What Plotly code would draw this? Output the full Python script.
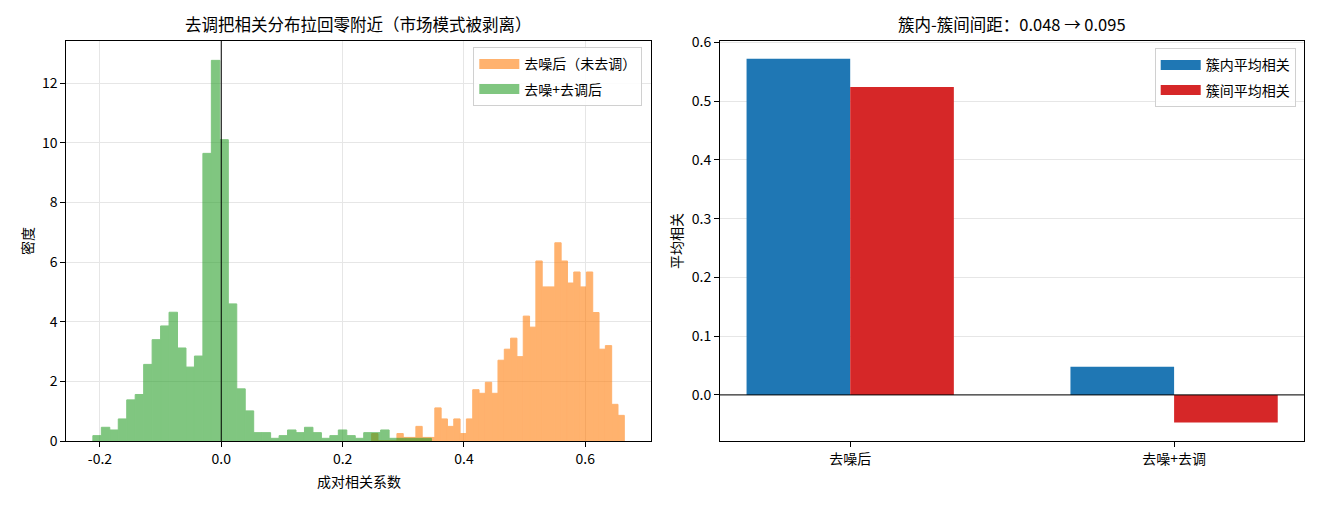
import plotly.graph_objects as go

# ---------------- data ----------------
# Left panel: histograms (density), 40 bins each
green_name = "去噪+去调后"
green_start = -0.2116
green_width = 0.01395
green_density = [0.18, 0.46, 0.37, 0.74, 1.38, 1.56, 2.57, 3.40, 3.86, 4.32,
                 3.12, 2.48, 2.85, 9.65, 12.77, 10.11, 4.60, 1.75, 1.01, 0.28,
                 0.28, 0.09, 0.18, 0.37, 0.28, 0.46, 0.28, 0.09, 0.18, 0.37,
                 0.18, 0.09, 0.28, 0.28, 0.37, 0.09, 0.09, 0.09, 0.09, 0.09]

orange_name = "去噪后（未去调）"
orange_start = 0.2479
orange_width = 0.01041
orange_density = [0.25, 0.0, 0.0, 0.0, 0.25, 0.12, 0.12, 0.49, 0.12, 0.12,
                  1.11, 0.74, 0.49, 0.74, 0.25, 0.74, 1.72, 1.60, 1.97, 1.60,
                  2.71, 3.08, 3.45, 2.83, 4.19, 3.82, 6.04, 5.17, 5.17, 6.65,
                  6.04, 5.30, 5.67, 5.17, 5.67, 4.31, 3.08, 3.20, 1.23, 0.86]

left_xticks = [-0.2, 0.0, 0.2, 0.4, 0.6]
left_xticklabels = ["-0.2", "0.0", "0.2", "0.4", "0.6"]
left_yticks = [0, 2, 4, 6, 8, 10, 12]

# Right panel: grouped bars
categories = ["去噪后", "去噪+去调"]
intra_name = "簇内平均相关"
inter_name = "簇间平均相关"
intra_vals = [0.572, 0.048]
inter_vals = [0.524, -0.047]
right_yticks = [0.0, 0.1, 0.2, 0.3, 0.4, 0.5, 0.6]
right_yticklabels = ["0.0", "0.1", "0.2", "0.3", "0.4", "0.5", "0.6"]

left_title = "去调把相关分布拉回零附近（市场模式被剥离）"
right_title = "簇内-簇间间距：0.048 → 0.095"
left_xlabel = "成对相关系数"
left_ylabel = "密度"
right_ylabel = "平均相关"

# ---------------- styling ----------------
W, H = 1320, 505
FONT = "Noto Sans CJK SC"
ORANGE = "#ff7f0e"
GREEN = "#2ca02c"
BLUE = "#1f77b4"
RED = "#d62728"
GRID = "#e6e6e6"
BAR_W = 0.32


def px_x(p):
    return p / W


def px_y(p):
    return 1 - p / H


def centers(start, width, n):
    return [start + width * (i + 0.5) for i in range(n)]


fig = go.Figure()

fig.add_trace(go.Bar(
    x=centers(orange_start, orange_width, len(orange_density)),
    y=orange_density, width=orange_width,
    marker=dict(color=ORANGE, line=dict(width=1, color=ORANGE)), opacity=0.6,
    name=orange_name, showlegend=False, xaxis="x", yaxis="y"))
fig.add_trace(go.Bar(
    x=centers(green_start, green_width, len(green_density)),
    y=green_density, width=green_width,
    marker=dict(color=GREEN, line=dict(width=1, color=GREEN)), opacity=0.6,
    name=green_name, showlegend=False, xaxis="x", yaxis="y"))

# legend entries (patch-like)
fig.add_trace(go.Scatter(x=[None], y=[None], mode="lines", name=orange_name,
                         line=dict(color="rgba(255,127,14,0.6)", width=10),
                         legend="legend", legendgroup="o", xaxis="x", yaxis="y"))
fig.add_trace(go.Scatter(x=[None], y=[None], mode="lines", name=green_name,
                         line=dict(color="rgba(44,160,44,0.6)", width=10),
                         legend="legend", legendgroup="g", xaxis="x", yaxis="y"))

fig.add_trace(go.Bar(x=[0, 1], y=intra_vals, width=BAR_W, offset=-BAR_W,
                     marker=dict(color=BLUE, line=dict(width=0)),
                     name=intra_name, showlegend=False, xaxis="x2", yaxis="y2"))
fig.add_trace(go.Bar(x=[0, 1], y=inter_vals, width=BAR_W, offset=0,
                     marker=dict(color=RED, line=dict(width=0)),
                     name=inter_name, showlegend=False, xaxis="x2", yaxis="y2"))
fig.add_trace(go.Scatter(x=[None], y=[None], mode="lines", name=intra_name,
                         line=dict(color=BLUE, width=10),
                         legend="legend2", legendgroup="b", xaxis="x2", yaxis="y2"))
fig.add_trace(go.Scatter(x=[None], y=[None], mode="lines", name=inter_name,
                         line=dict(color=RED, width=10),
                         legend="legend2", legendgroup="r", xaxis="x2", yaxis="y2"))

axis_common = dict(showline=True, linecolor="black", linewidth=1, mirror=True,
                   ticks="outside", ticklen=5, tickwidth=1, tickcolor="black",
                   zeroline=False, automargin=False,
                   tickfont=dict(size=14, color="black", family=FONT))

xd1 = [px_x(66.3), px_x(651)]
xd2 = [px_x(720), px_x(1304.3)]
yd = [px_y(441), px_y(40.7)]

legend_common = dict(xanchor="right", yanchor="top",
                     bgcolor="rgba(255,255,255,0.85)", bordercolor="#d0d0d0",
                     borderwidth=1, itemwidth=40, font=dict(size=14, family=FONT),
                     tracegroupgap=4)

fig.update_layout(
    width=W, height=H,
    autosize=False,
    margin=dict(l=0, r=0, t=0, b=0, pad=0, autoexpand=False),
    paper_bgcolor="white", plot_bgcolor="white",
    barmode="overlay",
    font=dict(family=FONT, size=14, color="black"),
    xaxis=dict(domain=xd1, range=[-0.2554, 0.7083], anchor="y",
               tickvals=left_xticks, ticktext=left_xticklabels,
               showgrid=True, gridcolor=GRID, gridwidth=1, **axis_common),
    yaxis=dict(domain=yd, range=[0, 13.43], anchor="x",
               tickvals=left_yticks,
               showgrid=True, gridcolor=GRID, gridwidth=1, **axis_common),
    xaxis2=dict(domain=xd2, range=[-0.402, 1.402], anchor="y2",
                tickvals=[0, 1], ticktext=categories,
                showgrid=False, **axis_common),
    yaxis2=dict(domain=yd, range=[-0.0784, 0.6027], anchor="x2",
                tickvals=right_yticks, ticktext=right_yticklabels,
                showgrid=True, gridcolor=GRID, gridwidth=1, **axis_common),
    legend=dict(x=px_x(642.3), y=px_y(47.3), **legend_common),
    legend2=dict(x=px_x(1295.7), y=px_y(48.3), **legend_common),
    shapes=[
        dict(type="line", xref="x", yref="y domain", x0=0, x1=0, y0=0, y1=1,
             line=dict(color="black", width=1), layer="above"),
        dict(type="line", xref="x2 domain", yref="y2", x0=0, x1=1, y0=0, y1=0,
             line=dict(color="black", width=1), layer="above"),
    ],
    annotations=[
        dict(text=left_title, x=px_x(358.7), y=px_y(24), xref="paper", yref="paper",
             xanchor="center", yanchor="middle", showarrow=False,
             font=dict(size=16.5, family=FONT, color="black")),
        dict(text=right_title, x=px_x(1012), y=px_y(24), xref="paper", yref="paper",
             xanchor="center", yanchor="middle", showarrow=False,
             font=dict(size=16.5, family=FONT, color="black")),
        dict(text=left_xlabel, x=px_x(358.7), y=px_y(481), xref="paper", yref="paper",
             xanchor="center", yanchor="middle", showarrow=False,
             font=dict(size=14, family=FONT, color="black")),
        dict(text=left_ylabel, x=px_x(27), y=px_y(241), xref="paper", yref="paper",
             xanchor="center", yanchor="middle", showarrow=False, textangle=-90,
             font=dict(size=14, family=FONT, color="black")),
        dict(text=right_ylabel, x=px_x(676), y=px_y(241), xref="paper", yref="paper",
             xanchor="center", yanchor="middle", showarrow=False, textangle=-90,
             font=dict(size=14, family=FONT, color="black")),
    ],
)

fig.write_html("out.html")
